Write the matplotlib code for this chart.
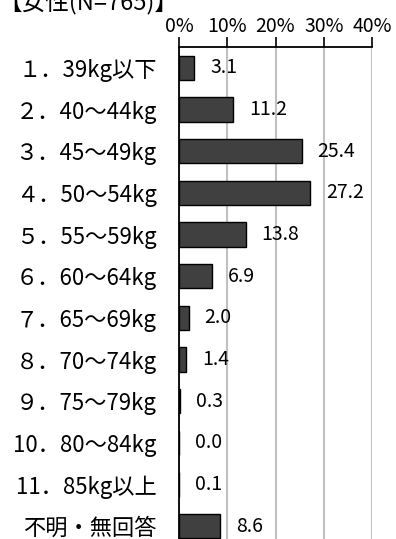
import matplotlib
matplotlib.use('Agg')
import matplotlib.pyplot as plt

plt.rcParams['font.family'] = ['Noto Sans CJK JP', 'DejaVu Sans']

# 体重の区分と割合(%)
categories = ['１．39kg以下', '２．40～44kg', '３．45～49kg', '４．50～54kg',
              '５．55～59kg', '６．60～64kg', '７．65～69kg', '８．70～74kg',
              '９．75～79kg', '10．80～84kg', '11．85kg以上', '不明・無回答']
values = [3.1, 11.2, 25.4, 27.2, 13.8, 6.9, 2.0, 1.4, 0.3, 0.0, 0.1, 8.6]
xticks = [0, 10, 20, 30, 40]
xtick_labels = ['0%', '10%', '20%', '30%', '40%']
title = '【女性(N=765)】'

fig = plt.figure(figsize=(3.96, 5.39), dpi=100)
W, H = 396, 539
left, right, top, bottom = 179, 372, 47, 547
ax = fig.add_axes([left / W, (H - bottom) / H, (right - left) / W, (bottom - top) / H])

ypos = list(range(len(categories)))
ax.barh(ypos, values, height=0.58, color='#404040', edgecolor='black', linewidth=1.0, zorder=3)

for y, v in zip(ypos, values):
    ax.annotate(f'{v:.1f}', xy=(v, y), xytext=(16, 0), textcoords='offset pixels',
                ha='left', va='center', fontsize=14, zorder=4)

ax.set_xlim(0, 40)
ax.set_ylim(len(categories) - 0.5, -0.5)
ax.set_yticks(ypos)
ax.set_yticklabels(categories, fontsize=16)
ax.set_xticks(xticks)
ax.set_xticklabels(xtick_labels, fontsize=14)
ax.xaxis.tick_top()
ax.tick_params(axis='x', direction='out', length=7, width=1.2, pad=0, color='black')
ax.tick_params(axis='y', length=0, pad=16)
ax.grid(axis='x', color='#c0c0c0', linewidth=1.5, zorder=0)
for s in ['right', 'bottom']:
    ax.spines[s].set_visible(False)
ax.spines['top'].set_linewidth(1.3)
ax.spines['left'].set_linewidth(1.3)

fig.text(-0.005, (H - 14) / H, title, fontsize=17, ha='left', va='bottom')

fig.savefig('out.png', dpi=100)
